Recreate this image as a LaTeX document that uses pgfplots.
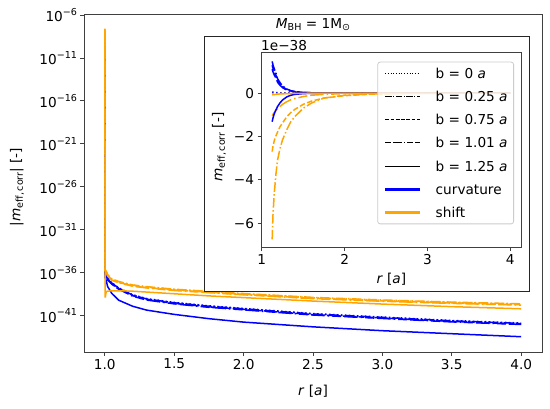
\documentclass[border=0pt]{standalone}
\usepackage{fontspec}
\setmainfont{DejaVu Sans}
\usepackage{pgfplots}
\usepackage{pgfplotstable}
\pgfplotsset{compat=1.18}

\definecolor{mblue}{RGB}{0,0,255}
\definecolor{morange}{RGB}{255,165,0}

\newcommand{\fs}{\fontsize{13.7}{16}\selectfont}
\newcommand{\sm}{\fontsize{9.6}{11}\selectfont}
\newcommand{\pw}[1]{10\raisebox{6.3bp}{\sm −#1}}
\newcommand{\sub}[1]{\raisebox{-2.4bp}{\sm #1}}

\tikzset{
 pdot/.style={dash pattern=on 1.5bp off 2.5bp},
 pdashdot/.style={dash pattern=on 9.6bp off 2.4bp on 1.5bp off 2.4bp},
 pdash/.style={dash pattern=on 5.5bp off 2.4bp},
 plong/.style={dash pattern=on 9bp off 3bp on 13.5bp off 3bp on 1.5bp off 3bp},
 ldot/.style={dash pattern=on 1bp off 1.7bp},
 ldashdot/.style={dash pattern=on 6.4bp off 1.6bp on 1bp off 1.6bp},
 ldash/.style={dash pattern=on 3.7bp off 1.6bp},
 llong/.style={dash pattern=on 6bp off 2bp on 9bp off 2bp on 1bp off 2bp},
}

% main panel: |m_eff,corr| (absolute values)
\pgfplotstableread{
r c0 c25 c75 c101 c125 s0 s25 s75 s101 s125
1.000 5.01e-9 2.51e-10 1.58e-10 1.0e-10 2.51e-10 2.51e-8 2.0e-8 1.58e-8 1.26e-8 2.2e-8
1.003 8.0e-37 7.5e-37 6.4e-37 5.6e-37 2.5e-37 2.0e-36 2.2e-36 1.8e-36 1.6e-36 1.26e-39
1.01 5.5e-37 5.01e-37 4.26e-37 3.76e-37 1.26e-37 1.39e-36 1.51e-36 1.2e-36 1.07e-36 6.31e-39
1.02 2.2e-37 2.0e-37 1.7e-37 1.5e-37 2.51e-38 5.51e-37 6.01e-37 4.76e-37 4.26e-37 7.08e-39
1.05 6.94e-38 6.31e-38 5.36e-38 4.73e-38 3.98e-39 1.74e-37 1.9e-37 1.5e-37 1.34e-37 7.94e-39
1.10 1.74e-38 1.58e-38 1.34e-38 1.19e-38 6.31e-40 8.73e-38 9.53e-38 7.54e-38 6.75e-38 7.94e-39
1.20 2.76e-39 2.51e-39 2.13e-39 1.88e-39 1.26e-40 3.48e-38 3.79e-38 3.0e-38 2.69e-38 7.08e-39
1.30 9.8e-40 8.91e-40 7.57e-40 6.68e-40 4.47e-41 2.2e-38 2.4e-38 1.9e-38 1.7e-38 5.62e-39
1.50 3.48e-40 3.16e-40 2.69e-40 2.37e-40 1.41e-41 1.1e-38 1.2e-38 9.5e-39 8.5e-39 3.55e-39
1.75 1.39e-40 1.26e-40 1.07e-40 9.45e-41 4.47e-42 6.18e-39 6.74e-39 5.34e-39 4.78e-39 2.0e-39
2.00 6.94e-41 6.31e-41 5.36e-41 4.73e-41 1.78e-42 3.48e-39 3.79e-39 3.0e-39 2.69e-39 1.26e-39
2.50 1.74e-41 1.58e-41 1.34e-41 1.19e-41 5.01e-43 1.23e-39 1.34e-39 1.06e-39 9.52e-40 5.01e-40
3.00 6.94e-42 6.31e-42 5.36e-42 4.73e-42 1.78e-43 6.18e-40 6.74e-40 5.34e-40 4.78e-40 2.24e-40
3.50 2.76e-42 2.51e-42 2.13e-42 1.88e-42 7.94e-44 3.48e-40 3.79e-40 3.0e-40 2.69e-40 1.12e-40
4.00 1.39e-42 1.26e-42 1.07e-42 9.45e-43 3.55e-44 2.2e-40 2.4e-40 1.9e-40 1.7e-40 6.31e-41
}\maintab

% inset: m_eff,corr in units of 1e-38
\pgfplotstableread{
r c0 c25 c75 c101 c125 s0 s25 s75 s101 s125
1.125 0.05 1.46 1.28 1.10 -1.32 -0.03 -6.75 -2.70 -1.05 -0.08
1.135 0.04 1.30 1.14 0.98 -1.15 -0.028 -5.60 -2.45 -0.98 -0.075
1.15 0.03 1.12 0.99 0.84 -0.95 -0.025 -4.64 -2.20 -0.90 -0.07
1.17 0.02 0.93 0.82 0.70 -0.78 -0.022 -3.75 -1.98 -0.80 -0.06
1.19 0.015 0.66 0.58 0.50 -0.62 -0.02 -3.09 -1.80 -0.72 -0.05
1.22 0.01 0.48 0.42 0.36 -0.45 -0.017 -2.55 -1.55 -0.62 -0.04
1.25 0.008 0.33 0.29 0.25 -0.32 -0.015 -2.16 -1.38 -0.52 -0.035
1.30 0.005 0.19 0.17 0.14 -0.18 -0.012 -1.70 -1.10 -0.40 -0.025
1.35 0.003 0.11 0.10 0.08 -0.10 -0.01 -1.32 -0.90 -0.31 -0.02
1.40 0.002 0.07 0.06 0.05 -0.06 -0.008 -1.08 -0.75 -0.25 -0.015
1.50 0.001 0.03 0.026 0.022 -0.025 -0.005 -0.70 -0.52 -0.16 -0.01
1.60 0 0.014 0.012 0.01 -0.01 -0.003 -0.46 -0.37 -0.10 -0.006
1.75 0 0.005 0.004 0.004 -0.004 -0.002 -0.23 -0.23 -0.06 -0.003
2.00 0 0.002 0.002 0.0015 -0.002 -0.001 -0.10 -0.12 -0.025 -0.001
2.30 0 0.001 0.001 0 -0.001 0 -0.045 -0.055 -0.01 0
2.70 0 0 0 0 0 0 -0.018 -0.02 -0.004 0
3.20 0 0 0 0 0 0 -0.006 -0.007 -0.001 0
4.00 0 0 0 0 0 0 -0.001 -0.001 0 0
}\insettab

\begin{document}
\begin{tikzpicture}
\pgfplotsset{
  mystyle/.style={
    scale only axis,
    tick align=outside, tick pos=left,
    major tick length=3.5bp, minor tick length=0pt,
    axis line style={black!75, line width=0.8bp},
    major tick style={black!75, line width=0.8bp},
    font=\fs, tick label style={font=\fs},
    label style={font=\fs},
  }
}
\begin{axis}[mystyle,
  at={(0bp,0bp)}, anchor=south west,
  width=458bp, height=338bp,
  xmin=0.85, xmax=4.15,
  ymode=log, ymin=5.9e-46, ymax=1.3e-6,
  xtick={1,1.5,2,2.5,3,3.5,4},
  xticklabels={1.0,1.5,2.0,2.5,3.0,3.5,4.0},
  ytick={1e-41,1e-36,1e-31,1e-26,1e-21,1e-16,1e-11,1e-6},
  yticklabels={\pw{41},\pw{36},\pw{31},\pw{26},\pw{21},\pw{16},\pw{11},\pw{6}},
  xlabel={\textit{r} [\textit{a}]},
  ylabel={|\textit{m}\sub{eff,\,corr}| [-]},
  xlabel style={at={(axis description cs:0.5,-0.1154)}, anchor=center},
  ylabel style={at={(axis description cs:-0.1463,0.488)}, anchor=center},
  every axis plot/.append style={line width=1.5bp},
]
\addplot[mblue, pdot] table[x=r,y=c0]{\maintab};
\addplot[mblue, pdashdot] table[x=r,y=c25]{\maintab};
\addplot[mblue, pdash] table[x=r,y=c75]{\maintab};
\addplot[mblue, plong] table[x=r,y=c101]{\maintab};
\addplot[mblue] table[x=r,y=c125]{\maintab};
\addplot[morange] table[x=r,y=s125]{\maintab};
\addplot[morange, pdot] table[x=r,y=s0]{\maintab};
\addplot[morange, pdashdot] table[x=r,y=s25]{\maintab};
\addplot[morange, pdash] table[x=r,y=s75]{\maintab};
\addplot[morange, plong] table[x=r,y=s101]{\maintab};
\end{axis}

\draw[black!85, line width=0.8bp, fill=white] (120bp,61bp) rectangle (445bp,316bp);
\node[anchor=base, font=\fs] at (229bp,323.7bp) {\textit{M}\sub{BH} = 1M\sub{⊙}};

\begin{axis}[mystyle,
  at={(177bp,104.3bp)}, anchor=south west,
  width=260.7bp, height=195.4bp,
  xmin=0.99, xmax=4.14, ymin=-7.13, ymax=1.88,
  xtick={1,2,3,4}, xticklabels={1,2,3,4},
  ytick={-6,-4,-2,0}, yticklabels={−6,−4,−2,0},
  xlabel={\textit{r} [\textit{a}]},
  ylabel={\textit{m}\sub{eff,\,corr} [-]},
  xlabel style={at={(axis description cs:0.5,-0.161)}, anchor=center},
  ylabel style={at={(axis description cs:-0.161,0.515)}, anchor=center},
  every axis plot/.append style={line width=1.5bp},
  legend image code/.code={\draw[#1] (0bp,0bp) -- (35bp,0bp);},
  legend cell align=left,
  legend style={at={(0.9705,0.952)}, anchor=north east,
    draw=black!20, line width=0.8bp, rounded corners=2.5bp,
    fill=white, fill opacity=0.8, draw opacity=1, text opacity=1,
    font=\fs, inner xsep=6bp, inner ysep=6bp,
    row sep=13.3bp, column sep=14bp,
    nodes={inner sep=0pt, text height=10bp, text depth=0bp}},
]
\addlegendimage{black, line width=1bp, ldot}
\addlegendentry{b = 0 \textit{a}}
\addlegendimage{black, line width=1bp, ldashdot}
\addlegendentry{b = 0.25 \textit{a}}
\addlegendimage{black, line width=1bp, ldash}
\addlegendentry{b = 0.75 \textit{a}}
\addlegendimage{black, line width=1bp, llong}
\addlegendentry{b = 1.01 \textit{a}}
\addlegendimage{black, line width=1bp}
\addlegendentry{b = 1.25 \textit{a}}
\addlegendimage{mblue, line width=3bp}
\addlegendentry{curvature}
\addlegendimage{morange, line width=3bp}
\addlegendentry{shift}
\addplot[forget plot, mblue, pdot] table[x=r,y=c0]{\insettab};
\addplot[forget plot, morange, pdot] table[x=r,y=s0]{\insettab};
\addplot[forget plot, mblue, pdashdot] table[x=r,y=c25]{\insettab};
\addplot[forget plot, morange, pdashdot] table[x=r,y=s25]{\insettab};
\addplot[forget plot, mblue, pdash] table[x=r,y=c75]{\insettab};
\addplot[forget plot, morange, pdash] table[x=r,y=s75]{\insettab};
\addplot[forget plot, mblue, plong] table[x=r,y=c101]{\insettab};
\addplot[forget plot, morange, plong] table[x=r,y=s101]{\insettab};
\addplot[forget plot, mblue] table[x=r,y=c125]{\insettab};
\addplot[forget plot, morange] table[x=r,y=s125]{\insettab};
\end{axis}
\node[anchor=base west, font=\fs, inner sep=0pt] at (177bp,301.3bp) {1e−38};

\pgfresetboundingbox
\path[use as bounding box] (-84bp,-57bp) rectangle (466bp,352bp);
\end{tikzpicture}
\end{document}
